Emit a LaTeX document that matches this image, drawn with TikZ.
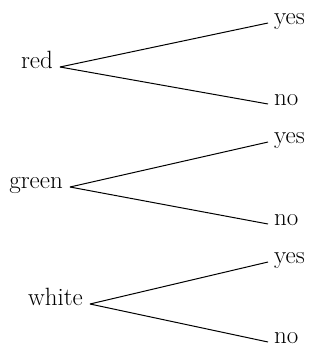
\documentclass[tikz,border=0pt]{standalone}
\begin{document}
\begin{tikzpicture}[x=1pt,y=1pt,
  lab/.style={inner sep=0pt,font=\fontsize{25}{28}\selectfont},
  edge/.style={line width=1pt}]
\useasboundingbox (0,0) rectangle (320,-350);
% red
\node[lab,anchor=mid east] (r) at (53,-66) {red};
\node[lab,anchor=mid west] (ry) at (274,-22) {yes};
\node[lab,anchor=mid west] (rn) at (274,-103) {no};
% green
\node[lab,anchor=mid east] (g) at (63,-186) {green};
\node[lab,anchor=mid west] (gy) at (274,-141) {yes};
\node[lab,anchor=mid west] (gn) at (274,-223) {no};
% white
\node[lab,anchor=mid east] (w) at (83,-303) {white};
\node[lab,anchor=mid west] (wy) at (274,-261) {yes};
\node[lab,anchor=mid west] (wn) at (274,-341) {no};
\foreach \a/\b in {r/ry,r/rn,g/gy,g/gn,w/wy,w/wn}
  \draw[edge] ([xshift=7pt,yshift=-1pt]\a.mid east) -- ([xshift=-6pt,yshift=-1pt]\b.mid west);
\end{tikzpicture}
\end{document}
